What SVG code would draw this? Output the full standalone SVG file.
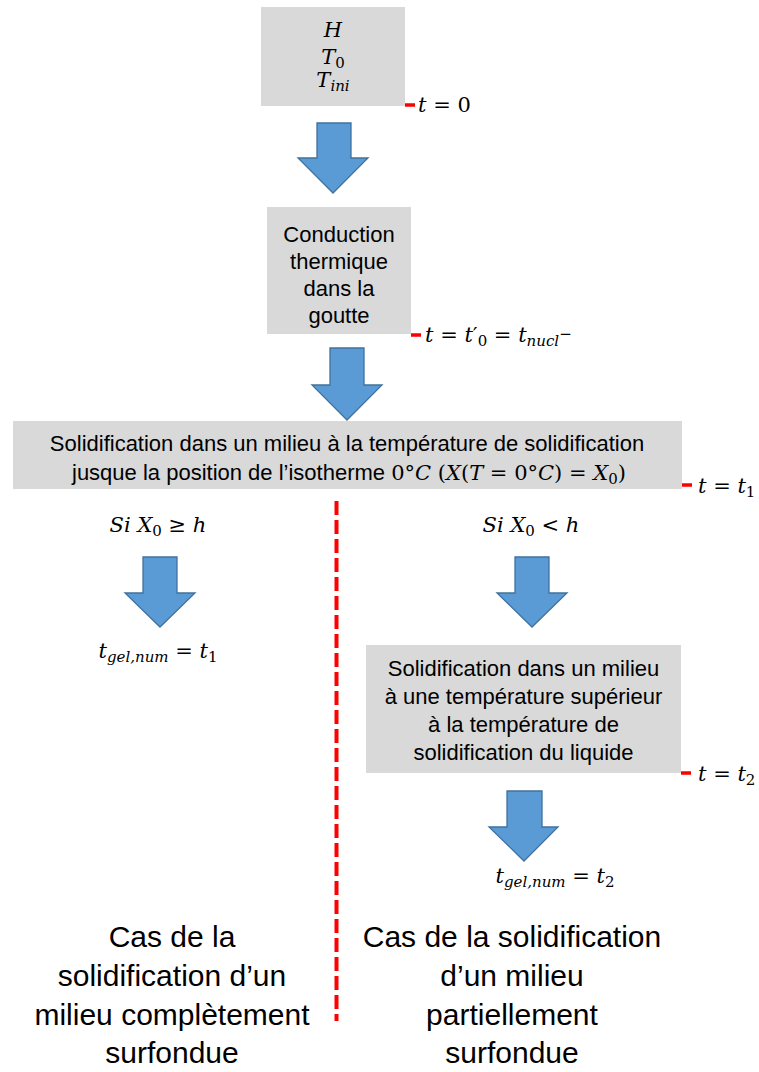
<svg xmlns="http://www.w3.org/2000/svg" width="759" height="1072" viewBox="0 0 759 1072">
<style>
.box{fill:#d9d9d9}
.txt{font-family:"Liberation Sans",Arial,sans-serif;font-size:22px;fill:#000}
.big{font-family:"Liberation Sans",Arial,sans-serif;font-size:30px;fill:#000}
.m{font-family:"DejaVu Serif","Liberation Serif",serif;font-size:21px;fill:#000}
.i{font-style:italic}
.s{font-size:15px}
.arrow{fill:#5b9bd5;stroke:#41719c;stroke-width:1.3;stroke-linejoin:miter}
.tick{stroke:#ff0000;stroke-width:3.5}
.dash{stroke:#ff0000;stroke-width:4;stroke-dasharray:14 5;fill:none}
</style>
<g id="node-inputs">
<rect class="box" x="261" y="7" width="144" height="99"/>
<text class="m i" x="333" y="37" text-anchor="middle">H</text>
<text class="m" x="333" y="64" text-anchor="middle"><tspan class="i">T</tspan><tspan class="s" dy="4">0</tspan></text>
<text class="m" x="333" y="87" text-anchor="middle"><tspan class="i">T</tspan><tspan class="s i" dy="4">ini</tspan></text>
</g>
<g id="node-conduction">
<rect class="box" x="267" y="207" width="144" height="127"/>
<text class="txt" x="339" y="242" text-anchor="middle">Conduction</text>
<text class="txt" x="339" y="269" text-anchor="middle">thermique</text>
<text class="txt" x="339" y="296" text-anchor="middle">dans la</text>
<text class="txt" x="339" y="323" text-anchor="middle">goutte</text>
</g>
<g id="node-solid1">
<rect class="box" x="13" y="421" width="669" height="68"/>
<text class="txt" x="347" y="451" text-anchor="middle">Solidification dans un milieu à la température de solidification</text>
<text class="txt" x="72" y="480">jusque la position de l’isotherme <tspan class="m">0°<tspan class="i">C</tspan> (<tspan class="i">X</tspan>(<tspan class="i">T</tspan> = 0°<tspan class="i">C</tspan>) = <tspan class="i">X</tspan><tspan class="s" dy="4">0</tspan><tspan dy="-4">)</tspan></tspan></text>
</g>
<g id="node-cond-left">
<text class="m" x="158" y="532" text-anchor="middle"><tspan class="i">Si X</tspan><tspan class="s" dy="4">0</tspan><tspan dy="-4"> ≥ </tspan><tspan class="i">h</tspan></text>
</g>
<g id="node-cond-right">
<text class="m" x="531" y="532" text-anchor="middle"><tspan class="i">Si X</tspan><tspan class="s" dy="4">0</tspan><tspan dy="-4"> &lt; </tspan><tspan class="i">h</tspan></text>
</g>
<g id="node-result-left">
<text class="m" x="158" y="658" text-anchor="middle"><tspan class="i">t</tspan><tspan class="s i" dy="4">gel,num</tspan><tspan dy="-4"> = </tspan><tspan class="i">t</tspan><tspan class="s" dy="4">1</tspan></text>
</g>
<g id="node-solid2">
<rect class="box" x="366" y="645" width="315" height="128"/>
<text class="txt" x="523.5" y="676" text-anchor="middle">Solidification dans un milieu</text>
<text class="txt" x="523.5" y="704" text-anchor="middle">à une température supérieur</text>
<text class="txt" x="523.5" y="732" text-anchor="middle">à la température de</text>
<text class="txt" x="523.5" y="760" text-anchor="middle">solidification du liquide</text>
</g>
<g id="node-result-right">
<text class="m" x="555" y="883" text-anchor="middle"><tspan class="i">t</tspan><tspan class="s i" dy="4">gel,num</tspan><tspan dy="-4"> = </tspan><tspan class="i">t</tspan><tspan class="s" dy="4">2</tspan></text>
</g>
<g id="node-case-left">
<text class="big" x="172" y="947" text-anchor="middle">Cas de la</text>
<text class="big" x="172" y="986" text-anchor="middle">solidification d’un</text>
<text class="big" x="172" y="1025" text-anchor="middle">milieu complètement</text>
<text class="big" x="172" y="1063" text-anchor="middle">surfondue</text>
</g>
<g id="node-case-right">
<text class="big" x="512" y="947" text-anchor="middle">Cas de la solidification</text>
<text class="big" x="512" y="986" text-anchor="middle">d’un milieu</text>
<text class="big" x="512" y="1025" text-anchor="middle">partiellement</text>
<text class="big" x="512" y="1063" text-anchor="middle">surfondue</text>
</g>
<g id="time-labels">
<line class="tick" x1="405" y1="105" x2="415" y2="105"/>
<text class="m" x="418" y="112"><tspan class="i">t</tspan> = 0</text>
<line class="tick" x1="411" y1="335" x2="421" y2="335"/>
<text class="m" x="425" y="342"><tspan class="i">t</tspan> = <tspan class="i">t</tspan>′<tspan class="s" dy="4">0</tspan><tspan dy="-4"> = </tspan><tspan class="i">t</tspan><tspan class="s i" dy="4">nucl</tspan><tspan class="s" dy="-7">−</tspan></text>
<line class="tick" x1="682" y1="485" x2="692" y2="485"/>
<text class="m" x="698" y="493"><tspan class="i">t</tspan> = <tspan class="i">t</tspan><tspan class="s" dy="4">1</tspan></text>
<line class="tick" x1="681" y1="773" x2="691" y2="773"/>
<text class="m" x="698" y="781"><tspan class="i">t</tspan> = <tspan class="i">t</tspan><tspan class="s" dy="4">2</tspan></text>
</g>
<g id="connectors">
<polygon class="arrow" points="317,123 351,123 351,158 368,158 333,193 298,158 317,158"/>
<polygon class="arrow" points="330,348 364,348 364,385 382,385 347,420 312,385 330,385"/>
<polygon class="arrow" points="143,557 177,557 177,593 195,593 160,627 125,593 143,593"/>
<polygon class="arrow" points="515,557 549,557 549,593 567,593 532,627 497,593 515,593"/>
<polygon class="arrow" points="507,791 542,791 542,827 558,827 524,861 489,827 507,827"/>
<line class="dash" x1="336.5" y1="501" x2="336.5" y2="1021"/>
</g>
</svg>
